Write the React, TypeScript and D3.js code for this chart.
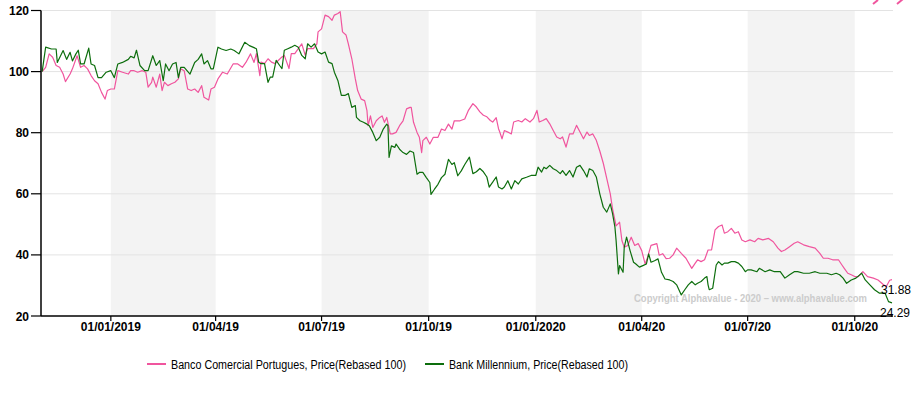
import * as d3 from "d3";

// Banco Comercial Portugues, Price (Rebased 100)
const bcpSeries: [string, number][] = [
  ["2018-11-03", 100], ["2018-11-06", 101.4], ["2018-11-09", 105.8], ["2018-11-12", 104.7],
  ["2018-11-15", 102], ["2018-11-18", 101.4], ["2018-11-21", 99.2], ["2018-11-23", 96.7],
  ["2018-11-27", 99.2], ["2018-11-29", 100.9], ["2018-12-03", 105.2], ["2018-12-06", 101.4],
  ["2018-12-09", 102], ["2018-12-12", 100.9], ["2018-12-15", 98.7], ["2018-12-18", 97],
  ["2018-12-21", 96], ["2018-12-24", 93.2], ["2018-12-27", 91], ["2018-12-29", 93.8],
  ["2019-01-01", 94.3], ["2019-01-04", 94.3], ["2019-01-07", 100.3], ["2019-01-11", 99.8],
  ["2019-01-16", 99.2], ["2019-01-18", 100.3], ["2019-01-21", 100.3], ["2019-01-24", 99.8],
  ["2019-01-28", 100.3], ["2019-01-31", 99.8], ["2019-02-02", 94.9], ["2019-02-05", 96.5],
  ["2019-02-06", 98.2], ["2019-02-09", 94.9], ["2019-02-12", 99.2], ["2019-02-14", 93.8],
  ["2019-02-16", 96.5], ["2019-02-19", 95.4], ["2019-02-22", 96], ["2019-02-25", 96.5],
  ["2019-02-28", 97.6], ["2019-03-02", 100.9], ["2019-03-05", 100.3], ["2019-03-08", 94.3],
  ["2019-03-11", 93.8], ["2019-03-14", 94.3], ["2019-03-17", 93.2], ["2019-03-20", 95.4],
  ["2019-03-22", 91.6], ["2019-03-26", 90.7], ["2019-03-28", 94.3], ["2019-03-31", 94.9],
  ["2019-04-03", 97.6], ["2019-04-07", 99.8], ["2019-04-11", 99.2], ["2019-04-16", 102.5],
  ["2019-04-20", 102.5], ["2019-04-24", 101.4], ["2019-04-27", 103], ["2019-05-01", 105.8],
  ["2019-05-04", 103], ["2019-05-06", 105.9], ["2019-05-09", 98.7], ["2019-05-10", 103.1],
  ["2019-05-13", 102.6], ["2019-05-16", 104.2], ["2019-05-19", 103.1], ["2019-05-22", 102.6],
  ["2019-05-25", 103.7], ["2019-05-28", 104.8], ["2019-05-30", 105.3], ["2019-06-03", 101],
  ["2019-06-05", 105.9], ["2019-06-08", 105.9], ["2019-06-11", 107.5], ["2019-06-14", 109.1],
  ["2019-06-17", 105.3], ["2019-06-19", 107.5], ["2019-06-24", 107.5], ["2019-06-27", 109.1],
  ["2019-06-28", 113], ["2019-07-01", 114], ["2019-07-04", 118.5], ["2019-07-07", 118],
  ["2019-07-10", 116.8], ["2019-07-12", 118.5], ["2019-07-15", 119], ["2019-07-17", 119.6],
  ["2019-07-19", 113], ["2019-07-22", 112], ["2019-07-24", 109.1], ["2019-07-27", 104.2],
  ["2019-07-30", 97.6], ["2019-08-01", 93.8], ["2019-08-04", 91], ["2019-08-07", 90.5],
  ["2019-08-09", 87.2], ["2019-08-10", 82.3], ["2019-08-12", 85.5], ["2019-08-14", 81.7],
  ["2019-08-17", 83.9], ["2019-08-20", 85], ["2019-08-22", 85.5], ["2019-08-24", 83.4],
  ["2019-08-26", 85], ["2019-08-29", 79.6], ["2019-08-31", 79.6], ["2019-09-03", 80.1],
  ["2019-09-06", 82.3], ["2019-09-09", 83.9], ["2019-09-12", 87.8], ["2019-09-15", 88.3],
  ["2019-09-16", 88.3], ["2019-09-18", 83.4], ["2019-09-21", 80.1], ["2019-09-23", 78.5],
  ["2019-09-25", 73.5], ["2019-09-26", 77.4], ["2019-09-29", 78.5], ["2019-10-02", 76.3],
  ["2019-10-05", 78.5], ["2019-10-09", 78.5], ["2019-10-12", 81.2], ["2019-10-15", 80.7],
  ["2019-10-18", 82.8], ["2019-10-21", 81.2], ["2019-10-23", 83.9], ["2019-10-28", 83.9],
  ["2019-11-01", 84.5], ["2019-11-04", 87.2], ["2019-11-08", 89.5], ["2019-11-11", 88.4],
  ["2019-11-14", 86.8], ["2019-11-17", 85.7], ["2019-11-20", 85.2], ["2019-11-23", 84],
  ["2019-11-25", 83.5], ["2019-11-28", 84.9], ["2019-11-30", 81.3], ["2019-12-01", 80.3],
  ["2019-12-03", 78], ["2019-12-05", 80.7], ["2019-12-08", 80.2], ["2019-12-11", 79.6],
  ["2019-12-13", 83.5], ["2019-12-17", 84], ["2019-12-20", 83.5], ["2019-12-23", 84.6],
  ["2019-12-27", 83.5], ["2019-12-30", 84.6], ["2020-01-02", 87.3], ["2020-01-04", 83.5],
  ["2020-01-07", 84], ["2020-01-10", 84.6], ["2020-01-13", 82.9], ["2020-01-16", 80.7],
  ["2020-01-19", 78.6], ["2020-01-22", 78], ["2020-01-24", 78.6], ["2020-01-27", 75.3],
  ["2020-01-30", 79.6], ["2020-02-02", 79.6], ["2020-02-05", 82.4], ["2020-02-08", 80.2],
  ["2020-02-11", 78], ["2020-02-14", 80.2], ["2020-02-16", 79.1], ["2020-02-19", 79.6],
  ["2020-02-22", 77.5], ["2020-02-25", 74], ["2020-02-28", 70], ["2020-03-02", 65],
  ["2020-03-05", 60], ["2020-03-07", 55], ["2020-03-10", 49.5], ["2020-03-13", 50.7],
  ["2020-03-15", 44.7], ["2020-03-17", 42.5], ["2020-03-20", 43.1], ["2020-03-23", 45.8],
  ["2020-03-26", 43.1], ["2020-03-29", 43.7], ["2020-04-01", 41.4], ["2020-04-04", 37],
  ["2020-04-06", 39.2], ["2020-04-09", 43.1], ["2020-04-14", 43.7], ["2020-04-16", 39.9],
  ["2020-04-19", 40.4], ["2020-04-22", 38.8], ["2020-04-25", 38.9], ["2020-04-28", 40],
  ["2020-05-01", 42.2], ["2020-05-05", 40.5], ["2020-05-09", 38.9], ["2020-05-14", 35.6],
  ["2020-05-17", 37.3], ["2020-05-19", 38.4], ["2020-05-22", 37.8], ["2020-05-25", 38.4],
  ["2020-05-28", 41.6], ["2020-05-31", 41.6], ["2020-06-03", 48.2], ["2020-06-06", 49.3],
  ["2020-06-09", 49.8], ["2020-06-11", 47.1], ["2020-06-14", 47.6], ["2020-06-17", 48.7],
  ["2020-06-20", 47.1], ["2020-06-23", 47.6], ["2020-06-26", 44.9], ["2020-06-29", 44.3],
  ["2020-07-03", 44.9], ["2020-07-07", 44.3], ["2020-07-10", 45.4], ["2020-07-14", 44.9],
  ["2020-07-19", 45.4], ["2020-07-23", 44.3], ["2020-07-27", 42.2], ["2020-07-30", 41.1],
  ["2020-08-02", 41.6], ["2020-08-06", 42.7], ["2020-08-10", 43.8], ["2020-08-13", 44.3],
  ["2020-08-18", 43.3], ["2020-08-23", 42.7], ["2020-08-28", 42.2], ["2020-09-01", 40.5],
  ["2020-09-04", 38.9], ["2020-09-08", 38.9], ["2020-09-12", 38.4], ["2020-09-17", 38.4],
  ["2020-09-20", 36.7], ["2020-09-22", 35.6], ["2020-09-25", 34], ["2020-09-28", 33.5],
  ["2020-10-01", 32.9], ["2020-10-04", 32.9], ["2020-10-08", 34.5], ["2020-10-12", 32.9],
  ["2020-10-17", 32.4], ["2020-10-21", 31.8], ["2020-10-25", 30.5], ["2020-10-28", 29.6],
  ["2020-10-31", 31.7], ["2020-11-02", 31.88],
];

// Bank Millennium, Price (Rebased 100)
const millenniumSeries: [string, number][] = [
  ["2018-11-03", 100], ["2018-11-06", 108], ["2018-11-11", 107.4], ["2018-11-15", 107.4],
  ["2018-11-16", 103], ["2018-11-21", 106.9], ["2018-11-24", 104], ["2018-11-27", 106.3],
  ["2018-11-29", 103.5], ["2018-12-02", 105.8], ["2018-12-04", 107], ["2018-12-06", 102.5],
  ["2018-12-09", 102.5], ["2018-12-13", 107.7], ["2018-12-15", 102.5], ["2018-12-18", 102],
  ["2018-12-21", 98], ["2018-12-24", 98], ["2018-12-28", 99.8], ["2019-01-01", 100.3],
  ["2019-01-04", 98], ["2019-01-07", 102.5], ["2019-01-11", 103], ["2019-01-16", 104],
  ["2019-01-18", 105], ["2019-01-21", 104.5], ["2019-01-23", 107], ["2019-01-26", 102],
  ["2019-01-30", 100.3], ["2019-02-02", 100.3], ["2019-02-06", 105.2], ["2019-02-09", 102],
  ["2019-02-12", 103.6], ["2019-02-15", 97], ["2019-02-17", 102.5], ["2019-02-20", 100.3],
  ["2019-02-23", 102.5], ["2019-02-26", 103], ["2019-02-28", 98], ["2019-03-02", 101.4],
  ["2019-03-05", 101.4], ["2019-03-10", 99.2], ["2019-03-14", 103], ["2019-03-17", 104],
  ["2019-03-20", 105.8], ["2019-03-22", 102.5], ["2019-03-25", 103.6], ["2019-03-28", 100.9],
  ["2019-03-30", 100.9], ["2019-04-03", 108], ["2019-04-06", 107.4], ["2019-04-10", 106.9],
  ["2019-04-14", 107.4], ["2019-04-17", 106.9], ["2019-04-21", 105.8], ["2019-04-26", 109.6],
  ["2019-04-30", 108.5], ["2019-05-03", 108], ["2019-05-06", 107.5], ["2019-05-08", 103.1],
  ["2019-05-10", 102.6], ["2019-05-13", 102.6], ["2019-05-16", 96.5], ["2019-05-18", 98.2],
  ["2019-05-20", 98.2], ["2019-05-23", 103.7], ["2019-05-26", 102], ["2019-05-28", 101],
  ["2019-05-30", 107], ["2019-06-02", 107.5], ["2019-06-05", 108], ["2019-06-08", 108.6],
  ["2019-06-11", 108], ["2019-06-14", 105.3], ["2019-06-17", 104.2], ["2019-06-19", 109.1],
  ["2019-06-22", 108], ["2019-06-25", 109.1], ["2019-06-28", 106.4], ["2019-07-01", 105.8],
  ["2019-07-04", 106.4], ["2019-07-07", 103.1], ["2019-07-10", 102.6], ["2019-07-12", 99.8],
  ["2019-07-15", 97.1], ["2019-07-18", 92.2], ["2019-07-21", 92.2], ["2019-07-24", 92.8],
  ["2019-07-27", 88.3], ["2019-07-30", 88.9], ["2019-07-31", 85], ["2019-08-03", 83.9],
  ["2019-08-06", 83.4], ["2019-08-09", 82.8], ["2019-08-11", 82.3], ["2019-08-14", 80.1],
  ["2019-08-17", 77.4], ["2019-08-20", 78.5], ["2019-08-23", 81.2], ["2019-08-26", 82.8],
  ["2019-08-27", 82.3], ["2019-08-28", 71.9], ["2019-08-30", 75.7], ["2019-09-02", 75.2],
  ["2019-09-03", 76.3], ["2019-09-06", 74.6], ["2019-09-09", 73.5], ["2019-09-12", 72.9],
  ["2019-09-15", 74], ["2019-09-18", 73.5], ["2019-09-21", 66.4], ["2019-09-23", 67],
  ["2019-09-26", 67], ["2019-09-29", 65.3], ["2019-10-02", 63.7], ["2019-10-03", 59.8],
  ["2019-10-06", 61.5], ["2019-10-09", 63.1], ["2019-10-12", 65.3], ["2019-10-15", 66.4],
  ["2019-10-18", 71.3], ["2019-10-21", 69.6], ["2019-10-23", 70.2], ["2019-10-26", 65.9],
  ["2019-10-29", 67.5], ["2019-11-01", 69.6], ["2019-11-05", 72], ["2019-11-08", 66.6],
  ["2019-11-11", 67.2], ["2019-11-14", 68.3], ["2019-11-17", 67.2], ["2019-11-20", 65.5],
  ["2019-11-22", 62.2], ["2019-11-25", 63.8], ["2019-11-28", 65.5], ["2019-11-30", 62.2],
  ["2019-12-03", 61.6], ["2019-12-05", 62.2], ["2019-12-08", 64.3], ["2019-12-11", 61.6],
  ["2019-12-14", 64.3], ["2019-12-17", 63.2], ["2019-12-20", 64.9], ["2019-12-24", 65.4],
  ["2019-12-28", 66], ["2020-01-01", 66], ["2020-01-03", 68.7], ["2020-01-06", 67.1],
  ["2020-01-08", 68.7], ["2020-01-10", 68.2], ["2020-01-13", 69.3], ["2020-01-16", 68.2],
  ["2020-01-19", 67.6], ["2020-01-22", 66.6], ["2020-01-24", 67.6], ["2020-01-27", 66],
  ["2020-01-30", 67.6], ["2020-02-02", 65.5], ["2020-02-05", 68.7], ["2020-02-08", 69.3],
  ["2020-02-11", 67.6], ["2020-02-14", 65.5], ["2020-02-16", 68.2], ["2020-02-19", 67.6],
  ["2020-02-22", 65.5], ["2020-02-25", 60], ["2020-02-28", 55.6], ["2020-03-02", 54],
  ["2020-03-05", 56.7], ["2020-03-07", 53.4], ["2020-03-09", 49.1], ["2020-03-10", 44.7],
  ["2020-03-12", 33.8], ["2020-03-13", 36.5], ["2020-03-16", 34.3], ["2020-03-17", 42.5],
  ["2020-03-19", 45.8], ["2020-03-22", 41.4], ["2020-03-25", 37.6], ["2020-03-27", 37],
  ["2020-03-30", 36], ["2020-04-02", 36.5], ["2020-04-05", 37], ["2020-04-07", 40.3],
  ["2020-04-09", 37.6], ["2020-04-12", 38.1], ["2020-04-15", 38.7], ["2020-04-18", 34.3],
  ["2020-04-21", 32.1], ["2020-04-25", 31.8], ["2020-04-28", 31.3], ["2020-05-01", 30.2],
  ["2020-05-05", 26.9], ["2020-05-08", 28.6], ["2020-05-11", 30.2], ["2020-05-14", 31.3],
  ["2020-05-17", 30.2], ["2020-05-19", 30.7], ["2020-05-22", 31.3], ["2020-05-25", 32.4],
  ["2020-05-27", 32.9], ["2020-05-28", 30.2], ["2020-05-29", 28.6], ["2020-06-01", 29.1],
  ["2020-06-04", 36.7], ["2020-06-06", 37.8], ["2020-06-09", 36.7], ["2020-06-11", 37.3],
  ["2020-06-14", 37.3], ["2020-06-17", 37.8], ["2020-06-20", 37.8], ["2020-06-23", 37.3],
  ["2020-06-26", 36.2], ["2020-06-29", 34.5], ["2020-07-01", 35.1], ["2020-07-04", 35.1],
  ["2020-07-09", 34.5], ["2020-07-11", 35.6], ["2020-07-16", 34.5], ["2020-07-20", 35.1],
  ["2020-07-24", 34.5], ["2020-07-29", 34.5], ["2020-08-02", 32.4], ["2020-08-06", 33.5],
  ["2020-08-10", 34.5], ["2020-08-13", 34.5], ["2020-08-18", 34], ["2020-08-23", 34],
  ["2020-08-28", 34.5], ["2020-09-01", 34], ["2020-09-07", 34], ["2020-09-11", 33.5],
  ["2020-09-15", 34], ["2020-09-18", 33.5], ["2020-09-21", 32.4], ["2020-09-24", 30.7],
  ["2020-09-28", 31.8], ["2020-10-02", 32.4], ["2020-10-07", 34], ["2020-10-10", 31.8],
  ["2020-10-14", 30.2], ["2020-10-18", 28.6], ["2020-10-22", 27.5], ["2020-10-27", 27.5],
  ["2020-10-30", 24.7], ["2020-11-02", 24.29],
];

const seriesNames = [
  "Banco Comercial Portugues, Price(Rebased 100)",
  "Bank Millennium, Price(Rebased 100)",
];
const yTicks = [20, 40, 60, 80, 100, 120];
const xTickDates = [
  "2019-01-01", "2019-04-01", "2019-07-01", "2019-10-01",
  "2020-01-01", "2020-04-01", "2020-07-01", "2020-10-01",
];
const xTickLabels = [
  "01/01/2019", "01/04/19", "01/07/19", "01/10/19",
  "01/01/2020", "01/04/20", "01/07/20", "01/10/20",
];
// alternate quarters shaded
const shadedQuarters: [string, string][] = [
  ["2019-01-01", "2019-04-01"],
  ["2019-07-01", "2019-10-01"],
  ["2020-01-01", "2020-04-01"],
  ["2020-07-01", "2020-10-01"],
];

const PINK = "#f0559e";
const GREEN = "#0d6e0d";
const FONT = "'Liberation Sans', Arial, sans-serif";

export default function App() {
  const width = 918;
  const height = 398;
  const left = 41;
  const right = 892;
  const top = 10.5;
  const bottom = 316;

  const parse = d3.timeParse("%Y-%m-%d");
  const x = d3
    .scaleTime()
    .domain([parse("2018-11-02")!, parse("2020-11-02")!])
    .range([left, right]);
  const y = d3.scaleLinear().domain([20, 120]).range([bottom, top]);

  const line = d3
    .line<[string, number]>()
    .x((d) => x(parse(d[0])!))
    .y((d) => y(d[1]));

  const bcpLast = bcpSeries[bcpSeries.length - 1];
  const milLast = millenniumSeries[millenniumSeries.length - 1];

  const legendItems = [
    { name: seriesNames[0], color: PINK, x: 147, len: 235 },
    { name: seriesNames[1], color: GREEN, x: 425, len: 179 },
  ];

  return (
    <svg
      width={width}
      height={height}
      style={{ position: "absolute", left: 0, top: 0, background: "#fff" }}
      fontFamily={FONT}
    >
      {/* shaded quarter bands */}
      {shadedQuarters.map(([a, b]) => (
        <rect
          key={a}
          x={x(parse(a)!)}
          y={top}
          width={x(parse(b)!) - x(parse(a)!)}
          height={bottom - top}
          fill="#f3f3f3"
        />
      ))}

      {/* horizontal grid */}
      {yTicks.slice(1).map((t) => (
        <line key={t} x1={left} x2={right + 1} y1={y(t)} y2={y(t)} stroke="#e3e3e3" strokeWidth={1} />
      ))}

      {/* series */}
      <path d={line(bcpSeries)!} fill="none" stroke={PINK} strokeWidth={1.2} strokeLinejoin="round" />
      <path d={line(millenniumSeries)!} fill="none" stroke={GREEN} strokeWidth={1.2} strokeLinejoin="round" />

      {/* copyright */}
      <text
        x={634}
        y={302}
        fontSize={10}
        fontWeight="bold"
        fill="#cccccc"
        textLength={233}
        lengthAdjust="spacingAndGlyphs"
      >
        Copyright Alphavalue - 2020 – www.alphavalue.com
      </text>

      {/* last values */}
      <text x={881} y={294} fontSize={12} fill="#000">{bcpLast[1].toFixed(2)}</text>
      <text x={880} y={317} fontSize={12} fill="#000">{milLast[1].toFixed(2)}</text>

      {/* y axis */}
      <line x1={left} x2={left} y1={top} y2={bottom} stroke="#000" strokeWidth={1.5} />
      {yTicks.map((t) => (
        <g key={t}>
          <line x1={31} x2={left} y1={y(t)} y2={y(t)} stroke="#000" strokeWidth={1.2} />
          <text x={29} y={y(t) + 4.5} textAnchor="end" fontSize={12} fontWeight="bold" fill="#000">
            {t}
          </text>
        </g>
      ))}

      {/* x axis */}
      <line x1={left} x2={right + 1} y1={bottom} y2={bottom} stroke="#000" strokeWidth={1.5} />
      {xTickDates.map((d, i) => (
        <g key={d}>
          <line x1={x(parse(d)!)} x2={x(parse(d)!)} y1={bottom} y2={bottom + 5} stroke="#000" strokeWidth={1.2} />
          <text x={x(parse(d)!)} y={331} textAnchor="middle" fontSize={12} fontWeight="bold" fill="#000">
            {xTickLabels[i]}
          </text>
        </g>
      ))}

      {/* legend */}
      {legendItems.map((it) => (
        <g key={it.name}>
          <line x1={it.x} x2={it.x + 19} y1={364} y2={364} stroke={it.color} strokeWidth={2} />
          <text
            x={it.x + 24}
            y={368.5}
            fontSize={12}
            fill="#000"
            textLength={it.len}
            lengthAdjust="spacingAndGlyphs"
          >
            {it.name}
          </text>
        </g>
      ))}

      {/* cropped logo marks top right */}
      <line x1={873} y1={4} x2={878} y2={0} stroke={PINK} strokeWidth={2} />
      <line x1={897} y1={4} x2={903} y2={-1} stroke={PINK} strokeWidth={2} />
    </svg>
  );
}
